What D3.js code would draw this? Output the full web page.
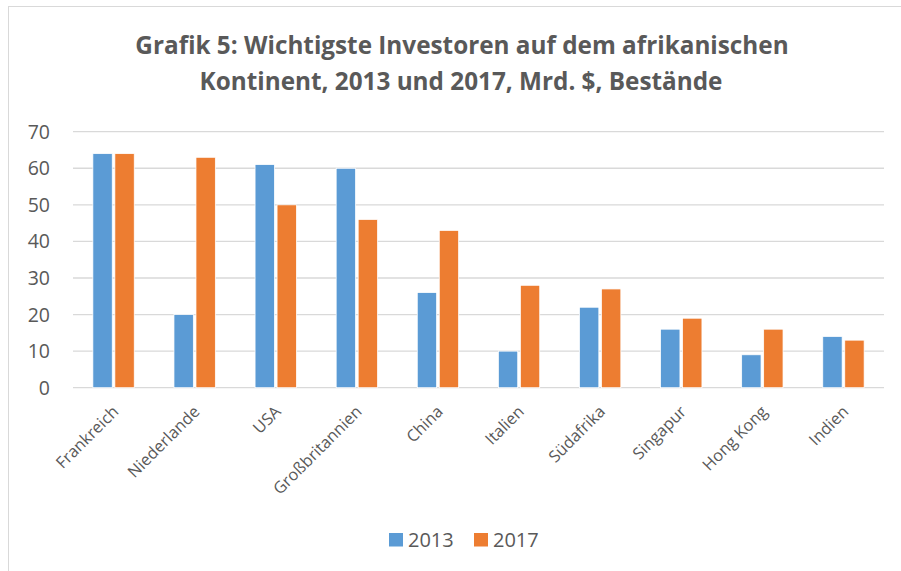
<!DOCTYPE html>
<html>
<head>
<meta charset="utf-8">
<script src="https://d3js.org/d3.v7.min.js"></script>
<style>
  body { margin: 0; background: #fff; }
  svg { display: block; font-family: "Open Sans", "Noto Sans", sans-serif; }
</style>
</head>
<body>
<div id="chart"></div>
<script>
    const categories = ["Frankreich", "Niederlande", "USA", "Großbritannien", "China",
        "Italien", "Südafrika", "Singapur", "Hong Kong", "Indien"];
    const values2013 = [64, 20, 61, 60, 26, 10, 22, 16, 9, 14];
    const values2017 = [64, 63, 50, 46, 43, 28, 27, 19, 16, 13];
    const seriesNames = ["2013", "2017"];
    const yTicks = [0, 10, 20, 30, 40, 50, 60, 70];

    const width = 901, height = 571;
    const colors = { "2013": "#5B9BD5", "2017": "#ED7D31" };
    const textColor = "#595959";

    const svg = d3.select("#chart").append("svg")
        .attr("width", width)
        .attr("height", height);

    // chart frame (runs off the right/bottom edge like the screenshot)
    svg.append("rect")
        .attr("x", 8.5).attr("y", 6.5)
        .attr("width", width + 20).attr("height", height + 20)
        .attr("fill", "#fff")
        .attr("stroke", "#d9d9d9");

    // title
    const title = svg.append("text")
        .attr("text-anchor", "middle")
        .attr("font-size", 24.3)
        .attr("font-weight", "bold")
        .attr("fill", textColor);
    title.append("tspan").attr("x", 462).attr("y", 53.5)
        .text("Grafik 5: Wichtigste Investoren auf dem afrikanischen");
    title.append("tspan").attr("x", 461).attr("y", 90)
        .text("Kontinent, 2013 und 2017, Mrd. $, Bestände");

    const plot = { left: 73, right: 884, top: 131.7, bottom: 387.7 };

    const x = d3.scaleBand()
        .domain(categories)
        .range([plot.left, plot.right])
        .paddingInner(0.49)
        .paddingOuter(0.245);

    const xs = d3.scaleBand()
        .domain(seriesNames)
        .range([0, x.bandwidth()])
        .paddingInner(0.12);

    const y = d3.scaleLinear()
        .domain([0, 70])
        .range([plot.bottom, plot.top]);

    // gridlines
    svg.append("g")
        .selectAll("line")
        .data(yTicks)
        .join("line")
        .attr("x1", plot.left).attr("x2", plot.right)
        .attr("y1", d => y(d)).attr("y2", d => y(d))
        .attr("stroke", "#d9d9d9")
        .attr("stroke-width", 1.3);

    // y tick labels
    svg.append("g")
        .selectAll("text")
        .data(yTicks)
        .join("text")
        .attr("x", 50)
        .attr("y", d => y(d))
        .attr("dy", "0.36em")
        .attr("text-anchor", "end")
        .attr("font-size", 19.5)
        .attr("fill", textColor)
        .text(d => d);

    // bars
    const rows = categories.map((c, i) => ({ cat: c, vals: [values2013[i], values2017[i]] }));
    svg.append("g")
        .selectAll("g")
        .data(rows)
        .join("g")
        .attr("transform", d => `translate(${x(d.cat)},0)`)
        .selectAll("rect")
        .data(d => d.vals.map((v, j) => ({ key: seriesNames[j], v })))
        .join("rect")
        .attr("x", d => xs(d.key))
        .attr("y", d => y(d.v))
        .attr("width", xs.bandwidth())
        .attr("height", d => y(0) - y(d.v))
        .attr("fill", d => colors[d.key])
        .attr("stroke", "#fff")
        .attr("stroke-width", 0.75);

    // category labels, rotated
    svg.append("g")
        .selectAll("text")
        .data(categories)
        .join("text")
        .attr("transform", d => `translate(${x(d) + x.bandwidth() / 2 + 6},${plot.bottom + 25}) rotate(-45)`)
        .attr("text-anchor", "end")
        .attr("font-size", 16.3)
        .attr("fill", textColor)
        .text(d => d);

    // legend
    const legend = svg.append("g").attr("transform", "translate(389,533)");
    const items = legend.selectAll("g")
        .data(seriesNames)
        .join("g")
        .attr("transform", (d, i) => `translate(${i * 85},0)`);
    items.append("rect")
        .attr("width", 14).attr("height", 13.5)
        .attr("fill", d => colors[d]);
    items.append("text")
        .attr("x", 19).attr("y", 7)
        .attr("dy", "0.36em")
        .attr("font-size", 20)
        .attr("fill", textColor)
        .text(d => d);
</script>
</body>
</html>
